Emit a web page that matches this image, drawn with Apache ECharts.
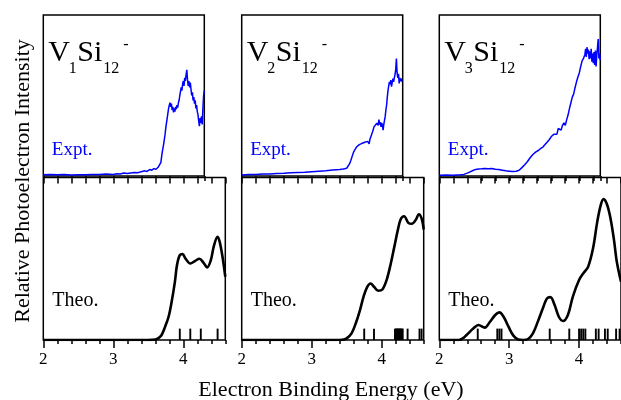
<!DOCTYPE html>
<html>
<head>
<meta charset="utf-8">
<script src="https://cdn.jsdelivr.net/npm/echarts@6/dist/echarts.min.js"></script>
<style>html,body{margin:0;padding:0;background:#fff}#c{width:621px;height:400px}</style>
</head>
<body>
<div id="c"></div>
<script>
// ---------- data ----------
const panelNames = [["V","1","Si","12","-"],["V","2","Si","12","-"],["V","3","Si","12","-"]];
const majorTicks = [2, 3, 4];
const stickHeight = 7;

const expt1 = [[2.00,0.8],[2.10,1.0],[2.20,0.7],[2.30,0.9],[2.40,0.6],[2.50,0.8],[2.60,0.7],[2.70,0.9],[2.80,1.0],[2.90,1.2],[3.00,1.0],[3.05,1.4],[3.10,1.3],[3.15,1.8],[3.20,1.5],[3.25,1.9],[3.30,2.2],[3.35,2.0],[3.40,2.7],[3.45,3.2],[3.48,2.8],[3.52,4.0],[3.55,3.6],[3.58,4.6],[3.61,4.2],[3.64,5.4],[3.66,6.5],[3.68,8.5],[3.69,12],[3.70,15],[3.72,20],[3.73,23],[3.74,26],[3.75,30],[3.76,33],[3.77,36],[3.78,39],[3.79,42],[3.80,44],[3.81,45.5],[3.82,43],[3.83,45],[3.84,41],[3.85,43],[3.86,39.5],[3.87,42],[3.88,40],[3.89,43],[3.90,41.5],[3.91,44],[3.92,42.5],[3.93,45.5],[3.94,47],[3.95,50],[3.96,51],[3.97,55],[3.98,53],[3.99,57],[4.00,59],[4.01,56],[4.02,61],[4.03,59],[4.04,63],[4.05,66],[4.06,60],[4.07,56],[4.08,59],[4.09,55],[4.10,58],[4.11,54],[4.12,50],[4.13,52],[4.14,47],[4.15,49],[4.16,45],[4.17,47],[4.18,42],[4.19,44],[4.20,40],[4.21,38],[4.22,34],[4.23,31],[4.24,36],[4.25,33],[4.26,37],[4.27,32],[4.28,42],[4.29,50],[4.30,53]];
const expt2 = [[2.00,0.6],[2.10,0.9],[2.20,1.0],[2.30,1.2],[2.40,1.3],[2.50,1.5],[2.60,1.7],[2.70,2.0],[2.80,2.2],[2.90,2.4],[3.00,2.7],[3.10,3.0],[3.20,3.3],[3.30,3.7],[3.40,4.0],[3.45,4.3],[3.50,4.8],[3.52,5.8],[3.54,7.5],[3.56,9.8],[3.58,12.5],[3.60,15],[3.62,16.5],[3.64,18],[3.66,18.8],[3.68,19.5],[3.70,19.2],[3.72,20.3],[3.74,19.6],[3.76,21],[3.78,20.2],[3.80,21.5],[3.82,20],[3.83,22.5],[3.85,25],[3.87,27.5],[3.89,30.5],[3.91,31.5],[3.93,32.8],[3.95,31.5],[3.96,35],[3.97,32],[3.98,33.5],[3.99,30.5],[4.00,33],[4.01,31.5],[4.02,28.5],[4.03,32],[4.05,37],[4.06,41],[4.07,44],[4.08,49],[4.09,53],[4.10,56],[4.11,58.5],[4.12,57],[4.13,59.5],[4.14,55.5],[4.15,58],[4.16,60.5],[4.17,58.5],[4.18,61],[4.19,63],[4.20,66],[4.21,73],[4.22,64],[4.23,61],[4.24,63.5],[4.25,57.5],[4.26,61],[4.27,59],[4.28,60.5],[4.29,58.5]];
const expt3 = [[2.00,0.5],[2.10,0.6],[2.20,0.5],[2.30,0.8],[2.35,1.0],[2.40,1.8],[2.44,2.6],[2.48,3.4],[2.52,4.1],[2.56,4.4],[2.60,4.5],[2.65,4.7],[2.70,4.5],[2.75,4.6],[2.80,4.2],[2.85,4.0],[2.90,3.6],[2.95,3.2],[3.00,3.0],[3.05,2.8],[3.10,3.0],[3.14,3.6],[3.18,5.2],[3.22,7.0],[3.26,9.0],[3.30,11.5],[3.34,13.5],[3.38,15],[3.42,16],[3.45,17.2],[3.48,18],[3.51,19.5],[3.54,21],[3.57,22.5],[3.60,24.5],[3.62,23.5],[3.64,26],[3.66,27],[3.68,26],[3.70,29.5],[3.72,30.5],[3.74,28.5],[3.76,31.5],[3.78,33],[3.80,31.5],[3.82,35],[3.84,38],[3.86,42],[3.88,45.5],[3.90,49],[3.92,51],[3.94,55],[3.96,58.5],[3.98,61.5],[4.00,64],[4.02,68],[4.04,71.5],[4.06,73],[4.08,75.5],[4.09,79],[4.10,74],[4.11,80],[4.12,76],[4.13,78.5],[4.14,72.5],[4.15,77.5],[4.16,73],[4.17,79],[4.18,71],[4.19,76],[4.20,70],[4.21,77],[4.22,69],[4.23,78],[4.24,68],[4.25,75],[4.26,80],[4.27,85],[4.28,73],[4.29,76],[4.30,72]];

const theo1 = [[2.0,0],[3.0,0],[3.5,0],[3.60,0.3],[3.64,1.0],[3.69,3.1],[3.74,8.2],[3.79,14.3],[3.83,22.6],[3.88,35.8],[3.91,46.1],[3.95,52.2],[3.99,52.9],[4.03,50.2],[4.10,47.1],[4.17,48.7],[4.23,50.0],[4.29,47.5],[4.34,44.7],[4.39,48.7],[4.44,58.4],[4.49,63.5],[4.52,60.4],[4.56,51.2],[4.60,38.9]];
const theo2 = [[2.0,0],[3.0,0],[3.40,0],[3.46,0.3],[3.50,1.0],[3.57,4.1],[3.63,10.3],[3.69,18.4],[3.74,26.6],[3.79,32.4],[3.84,34.8],[3.89,32.8],[3.95,30.3],[4.01,31.1],[4.07,36.9],[4.13,47.1],[4.18,57.3],[4.23,67.6],[4.27,74.2],[4.32,76.2],[4.38,72.1],[4.43,71.5],[4.49,74.2],[4.53,77.4],[4.57,74.8],[4.60,68.0]];
const theo3 = [[2.0,0],[2.28,0],[2.33,0.8],[2.39,3.1],[2.49,7.2],[2.56,9.2],[2.65,7.6],[2.72,10.9],[2.80,15.4],[2.86,17.0],[2.92,14.3],[2.99,8.2],[3.06,2.7],[3.13,0.3],[3.20,0],[3.27,0.6],[3.34,4.1],[3.41,11.3],[3.49,20.5],[3.54,25.6],[3.59,26.4],[3.65,21.5],[3.71,14.3],[3.77,11.7],[3.84,15.4],[3.91,26.6],[4.00,36.9],[4.07,41.6],[4.13,45.1],[4.20,56.4],[4.26,72.7],[4.31,83.0],[4.35,86.7],[4.40,83.4],[4.45,74.8],[4.50,61.5],[4.54,48.1],[4.60,35.8]];

const sticks1 = [3.95, 4.10, 4.25, 4.49];
const sticks2 = [3.75, 3.89, 4.19, 4.20, 4.21, 4.22, 4.23, 4.24, 4.25, 4.26, 4.27, 4.28, 4.29, 4.30, 4.37, 4.54, 4.57];
const sticks3 = [2.55, 2.83, 2.86, 2.89, 3.58, 3.86, 4.00, 4.03, 4.06, 4.09, 4.24, 4.28, 4.37, 4.41, 4.53, 4.58];

// ---------- layout ----------
const SERIF = '"Liberation Serif", "Times New Roman", serif';
const pxPerEv = 70;
const topMax = 4.3, botMax = 4.6, xMin = 2;
const lefts = [43.3, 241.7, 439.3];
const topGridTop = 15, topGridH = 161;
const botGridTop = 177.5, botGridH = 162.5;
const expts = [expt1, expt2, expt3];
const theos = [theo1, theo2, theo3];
const sticks = [sticks1, sticks2, sticks3];

const grids = [], xAxes = [], yAxes = [], series = [], graphics = [];
const border = { show: true, borderColor: '#000', borderWidth: 1.5, backgroundColor: 'transparent' };
const tickStyle = { color: '#000', width: 1.5 };

lefts.forEach((left, i) => {
  const gTop = grids.length;
  grids.push(Object.assign({ left: left, top: topGridTop, width: (topMax - xMin) * pxPerEv, height: topGridH }, border));
  const gBot = grids.length;
  grids.push(Object.assign({ left: left, top: botGridTop, width: (botMax - xMin) * pxPerEv, height: botGridH }, border));

  const xTop = xAxes.length;
  xAxes.push({ gridIndex: gTop, type: 'value', min: xMin, max: topMax, interval: 0.2, position: 'top',
    axisLine: { show: false }, axisTick: { inside: true, length: 5, lineStyle: tickStyle },
    axisLabel: { show: false }, splitLine: { show: false } });
  const xBot = xAxes.length;
  xAxes.push({ gridIndex: gBot, type: 'value', min: xMin, max: botMax, interval: 1, position: 'bottom',
    axisLine: { show: false },
    axisTick: { show: true, inside: false, length: 8, lineStyle: tickStyle, customValues: majorTicks },
    axisLabel: { show: true, margin: 11, fontSize: 17, fontFamily: SERIF, color: '#000', customValues: majorTicks },
    splitLine: { show: false } });
  xAxes.push({ gridIndex: gBot, type: 'value', min: xMin, max: botMax, interval: 0.2, position: 'bottom',
    axisLine: { show: false }, axisTick: { inside: false, length: 4, lineStyle: tickStyle },
    axisLabel: { show: false }, splitLine: { show: false } });
  xAxes.push({ gridIndex: gBot, type: 'value', min: xMin, max: botMax, interval: 0.2, position: 'top',
    axisLine: { show: false }, axisTick: { inside: true, length: 6, lineStyle: tickStyle },
    axisLabel: { show: false }, splitLine: { show: false } });

  const yTop = yAxes.length;
  yAxes.push({ gridIndex: gTop, type: 'value', min: 0, max: 100, show: false });
  const yBot = yAxes.length;
  yAxes.push({ gridIndex: gBot, type: 'value', min: 0, max: 100, show: false });

  series.push({ type: 'line', xAxisIndex: xTop, yAxisIndex: yTop, data: expts[i], showSymbol: false,
    lineStyle: { color: '#0000ff', width: 1.5 }, z: 3 });
  series.push({ type: 'line', xAxisIndex: xBot, yAxisIndex: yBot, data: theos[i], showSymbol: false, smooth: 0.35,
    lineStyle: { color: '#000', width: 2.6 }, z: 3 });
  series.push({ type: 'custom', xAxisIndex: xBot, yAxisIndex: yBot,
    data: sticks[i].map(e => [e, stickHeight]),
    renderItem: function (params, api) {
      const p0 = api.coord([api.value(0), 0]);
      const p1 = api.coord([api.value(0), api.value(1)]);
      return { type: 'line', shape: { x1: p0[0], y1: p0[1], x2: p1[0], y2: p1[1] },
        style: { stroke: '#000', lineWidth: 1.9 } };
    }, z: 4 });

  const nm = panelNames[i];
  const tx = left + 5;
  graphics.push({ type: 'text', x: tx, y: 53.5, style: { text: nm[0], font: '30px ' + SERIF, fill: '#000', align: 'left', verticalAlign: 'middle' } });
  graphics.push({ type: 'text', x: tx + 20.5, y: 69, style: { text: nm[1], font: '16px ' + SERIF, fill: '#000', align: 'left', verticalAlign: 'middle' } });
  graphics.push({ type: 'text', x: tx + 29, y: 53.5, style: { text: nm[2], font: '30px ' + SERIF, fill: '#000', align: 'left', verticalAlign: 'middle' } });
  graphics.push({ type: 'text', x: tx + 55, y: 69, style: { text: nm[3], font: '16px ' + SERIF, fill: '#000', align: 'left', verticalAlign: 'middle' } });
  graphics.push({ type: 'text', x: tx + 75, y: 45, style: { text: nm[4], font: '16px ' + SERIF, fill: '#000', align: 'left', verticalAlign: 'middle' } });

  graphics.push({ type: 'text', x: left + 8.5, y: 150.5, style: { text: 'Expt.', font: '19px ' + SERIF, fill: '#0000ff', align: 'left', verticalAlign: 'middle' } });
  graphics.push({ type: 'text', x: left + 9, y: 300.5, style: { text: 'Theo.', font: '20px ' + SERIF, fill: '#000', align: 'left', verticalAlign: 'middle' } });
});

graphics.push({ type: 'text', x: 23, y: 181, rotation: Math.PI / 2,
  style: { text: 'Relative Photoelectron Intensity', font: '22px ' + SERIF, fill: '#000', align: 'center', verticalAlign: 'middle' } });
graphics.push({ type: 'text', x: 331, y: 390,
  style: { text: 'Electron Binding Energy (eV)', font: '22px ' + SERIF, fill: '#000', align: 'center', verticalAlign: 'middle' } });

const chart = echarts.init(document.getElementById('c'), null, { renderer: 'canvas' });
chart.setOption({
  animation: false,
  backgroundColor: '#fff',
  grid: grids,
  xAxis: xAxes,
  yAxis: yAxes,
  series: series,
  graphic: graphics
});
</script>
</body>
</html>
